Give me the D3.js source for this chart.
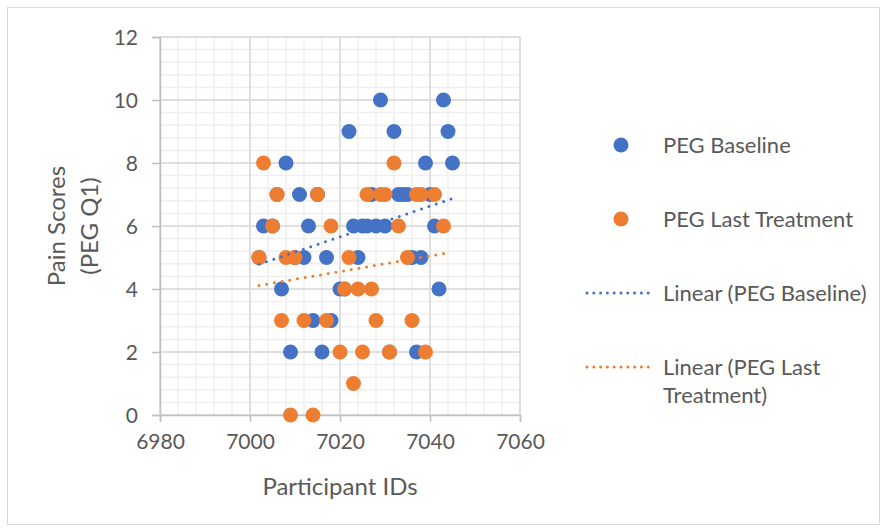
<!DOCTYPE html>
<html>
<head>
<meta charset="utf-8">
<script src="https://cdn.jsdelivr.net/npm/d3@7"></script>
<style>
  html, body { margin: 0; padding: 0; background: #fff; }
  svg { display: block; font-family: Lato, "Open Sans", sans-serif; }
</style>
</head>
<body>
<svg id="chart" width="883" height="529"></svg>
<script>
// PEG Q1 pain scores per participant
const baselineIds = [7002,7003,7005,7006,7007,7008,7009,7010,7011,7012,
                     7013,7014,7015,7016,7017,7018,7020,7021,7022,7023,
                     7024,7025,7026,7027,7028,7029,7030,7031,7032,7033,
                     7034,7035,7036,7037,7038,7039,7040,7041,7042,7043,
                     7044,7045];
const baselineScores = [5,6,6,7,4,8,2,5,7,5,
                        6,3,7,2,5,3,4,4,9,6,
                        5,6,6,7,6,10,6,2,9,7,
                        7,7,5,2,5,8,7,6,4,10,
                        9,8];
const lastIds = [7002,7003,7005,7006,7007,7008,7009,7010,7012,7014,
                 7015,7017,7018,7020,7021,7022,7023,7024,7025,7026,
                 7027,7028,7029,7030,7031,7032,7033,7035,7036,7037,
                 7038,7039,7041,7043];
const lastScores = [5,8,6,7,3,5,0,5,3,0,
                    7,3,6,2,4,5,1,4,2,7,
                    4,3,7,7,2,8,6,5,3,7,
                    7,2,7,6];

const xTicks = [6980, 7000, 7020, 7040, 7060];
const yTicks = [0, 2, 4, 6, 8, 10, 12];

const seriesNames = ["PEG Baseline", "PEG Last Treatment"];
const trendNames = [["Linear (PEG Baseline)"], ["Linear (PEG Last", "Treatment)"]];
const colors = ["#4472C4", "#ED7D31"];

const svg = d3.select("#chart");
const textColor = "#595959";

// chart frame
svg.append("rect")
  .attr("x", 7.5).attr("y", 7.5).attr("width", 872).attr("height", 517)
  .attr("fill", "#fff").attr("stroke", "#d9d9d9").attr("stroke-width", 1);

const plot = { left: 160, right: 520, top: 37, bottom: 415 };
const x = d3.scaleLinear().domain([6980, 7060]).range([plot.left, plot.right]);
const y = d3.scaleLinear().domain([0, 12]).range([plot.bottom, plot.top]);

// minor gridlines
const minorX = d3.range(6980, 7060.01, 4);
const minorY = d3.range(0, 12.001, 0.4);
const grid = svg.append("g");
grid.selectAll(".mx").data(minorX).join("line")
  .attr("x1", d => x(d)).attr("x2", d => x(d))
  .attr("y1", plot.top).attr("y2", plot.bottom)
  .attr("stroke", "#efefef").attr("stroke-width", 1.5);
grid.selectAll(".my").data(minorY).join("line")
  .attr("y1", d => y(d)).attr("y2", d => y(d))
  .attr("x1", plot.left).attr("x2", plot.right)
  .attr("stroke", "#efefef").attr("stroke-width", 1.5);
// major gridlines
grid.selectAll(".Mx").data(xTicks).join("line")
  .attr("x1", d => x(d)).attr("x2", d => x(d))
  .attr("y1", plot.top).attr("y2", plot.bottom)
  .attr("stroke", "#d9d9d9").attr("stroke-width", 1.5);
grid.selectAll(".My").data(yTicks).join("line")
  .attr("y1", d => y(d)).attr("y2", d => y(d))
  .attr("x1", plot.left).attr("x2", plot.right)
  .attr("stroke", "#d9d9d9").attr("stroke-width", 1.5);

// axes
const xAxis = d3.axisBottom(x).tickValues(xTicks).tickSize(7).tickPadding(12).tickFormat(d3.format("d"));
const yAxis = d3.axisLeft(y).tickValues(yTicks).tickSize(8).tickPadding(14).tickFormat(d3.format("d"));
const gx = svg.append("g").attr("transform", `translate(0,${plot.bottom})`).call(xAxis);
const gy = svg.append("g").attr("transform", `translate(${plot.left},0)`).call(yAxis);
[gx, gy].forEach(g => {
  g.select(".domain").attr("stroke", "#bfbfbf").attr("stroke-width", 1.5);
  g.selectAll(".tick line").attr("stroke", "#bfbfbf").attr("stroke-width", 1.5);
  g.selectAll(".tick text").attr("fill", textColor).attr("font-size", 21)
    .attr("font-family", "Lato, sans-serif");
});
gy.selectAll(".tick text").attr("dy", "0.36em");

// axis titles
svg.append("text")
  .attr("x", 340).attr("y", 495)
  .attr("text-anchor", "middle").attr("fill", textColor).attr("font-size", 24)
  .text("Participant IDs");
const yt = svg.append("text")
  .attr("transform", `translate(65,${(plot.top + plot.bottom) / 2}) rotate(-90)`)
  .attr("text-anchor", "middle").attr("fill", textColor).attr("font-size", 24);
yt.append("tspan").attr("x", 0).attr("dy", 0).text("Pain Scores");
yt.append("tspan").attr("x", 0).attr("dy", 33).text("(PEG Q1)");

// scatter points
const series = [
  baselineIds.map((id, i) => ({ id, v: baselineScores[i] })),
  lastIds.map((id, i) => ({ id, v: lastScores[i] }))
];
series.forEach((pts, s) => {
  svg.append("g").selectAll("circle").data(pts).join("circle")
    .attr("cx", d => x(d.id)).attr("cy", d => y(d.v)).attr("r", 7.5)
    .attr("fill", colors[s]);
});

// least-squares trendlines
function fit(pts) {
  const mx = d3.mean(pts, d => d.id), my = d3.mean(pts, d => d.v);
  const sxy = d3.sum(pts, d => (d.id - mx) * (d.v - my));
  const sxx = d3.sum(pts, d => (d.id - mx) ** 2);
  const b = sxy / sxx;
  return t => my + b * (t - mx);
}
series.forEach((pts, s) => {
  const f = fit(pts);
  const [x0, x1] = d3.extent(pts, d => d.id);
  svg.append("line")
    .attr("x1", x(x0)).attr("y1", y(f(x0)))
    .attr("x2", x(x1)).attr("y2", y(f(x1)))
    .attr("stroke", colors[s]).attr("stroke-width", 3)
    .attr("stroke-linecap", "round").attr("stroke-dasharray", "0 7.8");
});

// legend
const legend = svg.append("g").attr("fill", textColor).attr("font-size", 22);
const markerY = [145, 219];
seriesNames.forEach((name, i) => {
  legend.append("circle").attr("cx", 621).attr("cy", markerY[i]).attr("r", 7.5).attr("fill", colors[i]);
  legend.append("text").attr("x", 663).attr("y", markerY[i]).attr("dy", "0.36em").text(name);
});
const lineY = [293, 367];
trendNames.forEach((lines, i) => {
  legend.append("line")
    .attr("x1", 587).attr("x2", 655).attr("y1", lineY[i]).attr("y2", lineY[i])
    .attr("stroke", colors[i]).attr("stroke-width", 3)
    .attr("stroke-linecap", "round").attr("stroke-dasharray", "0 6.8");
  lines.forEach((t, j) => {
    legend.append("text").attr("x", 663).attr("y", lineY[i] + j * 28)
      .attr("dy", "0.36em").text(t);
  });
});
</script>
</body>
</html>
